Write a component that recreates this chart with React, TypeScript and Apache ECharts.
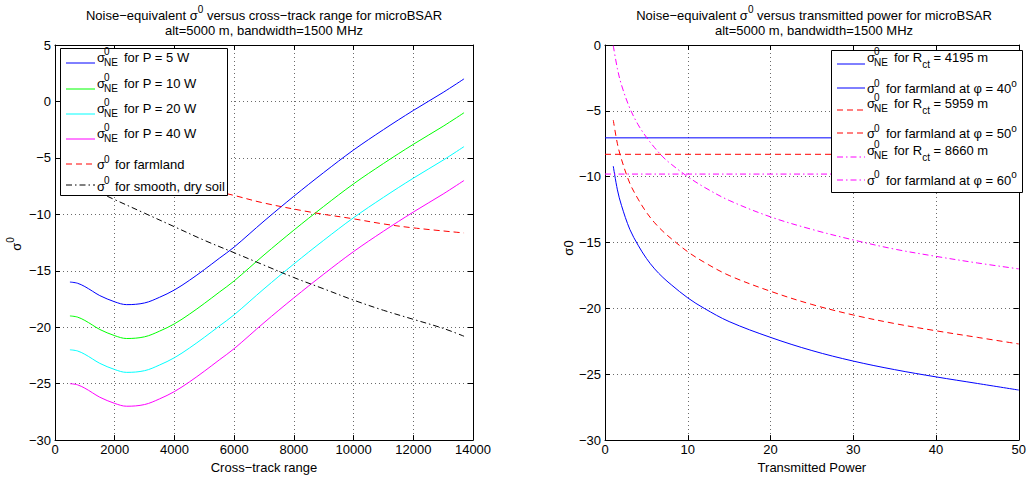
import React, { useEffect, useRef } from "react";
import * as echarts from "echarts";

// ---------- Left panel: sigma0 vs cross-track range ----------
const RANGE_X = [500, 750, 1000, 1250, 1500, 2000, 2400, 3000, 3500, 4000, 4500, 5000, 5500, 6000, 7000, 8000, 9000, 10000, 11000, 12000, 13000, 13700];
const NE_P5 = [-16.0, -16.1, -16.4, -16.8, -17.2, -17.75, -18.0, -17.85, -17.35, -16.7, -15.85, -14.9, -13.9, -12.9, -10.6, -8.4, -6.3, -4.3, -2.5, -0.8, 0.8, 2.0];
const NE_P10 = [-19.0, -19.1, -19.4, -19.8, -20.2, -20.75, -21.0, -20.85, -20.35, -19.7, -18.85, -17.9, -16.9, -15.9, -13.6, -11.4, -9.3, -7.3, -5.5, -3.8, -2.2, -1.0];
const NE_P20 = [-22.0, -22.1, -22.4, -22.8, -23.2, -23.75, -24.0, -23.85, -23.35, -22.7, -21.85, -20.9, -19.9, -18.9, -16.6, -14.4, -12.3, -10.3, -8.5, -6.8, -5.2, -4.0];
const NE_P40 = [-25.0, -25.1, -25.4, -25.8, -26.2, -26.75, -27.0, -26.85, -26.35, -25.7, -24.85, -23.9, -22.9, -21.9, -19.6, -17.4, -15.3, -13.3, -11.5, -9.8, -8.2, -7.0];
const FARM_X = [500, 1000, 2000, 3000, 4195, 5000, 5959, 7000, 8660, 10000, 11000, 12000, 13700];
const FARM_Y = [-3.0, -4.2, -5.6, -6.4, -7.1, -7.7, -8.3, -9.0, -9.85, -10.4, -10.85, -11.2, -11.65];
const SOIL_X = [500, 1000, 1500, 2000, 3000, 4000, 5000, 6000, 7000, 8000, 9000, 10000, 11000, 12000, 13000, 13700];
const SOIL_Y = [-7.0, -7.5, -8.1, -8.7, -9.9, -11.1, -12.3, -13.4, -14.5, -15.6, -16.6, -17.6, -18.5, -19.3, -20.1, -20.8];
const LEFT_X_TICKS = { min: 0, max: 14000, interval: 2000 };
const LEFT_Y_TICKS = { min: -30, max: 5, interval: 5 };

// ---------- Right panel: sigma0 vs transmitted power ----------
const POWER = [1, 1.5, 2, 3, 4, 5, 6, 7, 8, 10, 12, 15, 20, 25, 30, 35, 40, 45, 50];
const NE_R4195 = [-9.2, -11.0, -12.2, -14.0, -15.2, -16.2, -17.0, -17.65, -18.2, -19.2, -20.0, -21.0, -22.2, -23.2, -24.0, -24.65, -25.2, -25.7, -26.2];
const NE_R5959 = [-5.7, -7.5, -8.7, -10.5, -11.7, -12.7, -13.5, -14.15, -14.7, -15.7, -16.5, -17.5, -18.7, -19.7, -20.5, -21.15, -21.7, -22.2, -22.7];
const NE_R8660 = [-0.05, -1.8, -3.05, -4.8, -6.05, -7.0, -7.8, -8.5, -9.05, -10.0, -10.8, -11.8, -13.05, -14.0, -14.8, -15.5, -16.05, -16.55, -17.0];
const FLAT_P = [0, 50];
const FARM_40 = [-7.05, -7.05];
const FARM_50 = [-8.3, -8.3];
const FARM_60 = [-9.8, -9.8];
const RIGHT_X_TICKS = { min: 0, max: 50, interval: 10 };
const RIGHT_Y_TICKS = { min: -30, max: 0, interval: 5 };

const FONT = '"Liberation Sans", Arial, Helvetica, sans-serif';
const dash = () => [6, 4];
const dashdot = () => [6, 3, 1.5, 3];

const zip = (xs: number[], ys: number[]) => xs.map((x, i) => [x, ys[i]]);
const minus = (v: number) => String(v).replace("-", "\u2212");

const RICH = {
  n: { fontSize: 13, fontFamily: FONT, verticalAlign: "middle" },
  sup: { fontSize: 10, fontFamily: FONT, verticalAlign: "middle", padding: [0, 0, 11, 0] },
  sub: { fontSize: 10, fontFamily: FONT, verticalAlign: "middle", padding: [14, 0, 0, 0] },
};

function txt(x: number, y: number, text: string, size = 13, align = "left") {
  return {
    type: "text",
    x,
    y,
    z: 100,
    silent: true,
    style: {
      text,
      fontSize: size,
      fontFamily: FONT,
      fill: "#000",
      align,
      verticalAlign: "middle",
      textAlign: align,
      textVerticalAlign: "middle",
      rich: RICH,
    },
  };
}

function sample(x1: number, x2: number, y: number, color: string, d?: number[]) {
  const style: any = { stroke: color, lineWidth: 1 };
  if (d) style.lineDash = d;
  return {
    type: "line",
    z: 100,
    silent: true,
    shape: { x1, y1: y, x2, y2: y },
    style,
  };
}

function sigmaNE(x: number, cy: number) {
  return [txt(x, cy, "\u03c3"), txt(x + 7, cy - 5.5, "0", 10), txt(x + 7, cy + 5, "NE", 10)];
}
function sigma0(x: number, cy: number) {
  return [txt(x, cy, "\u03c3"), txt(x + 7, cy - 5.5, "0", 10)];
}

function buildGraphics() {
  const g: any[] = [];
  g.push(txt(264, 15, "{n|Noise\u2212equivalent \u03c3}{sup|0}{n| versus cross\u2212track range for microBSAR}", 13, "center"));
  g.push(txt(264, 30, "alt=5000 m, bandwidth=1500 MHz", 13, "center"));
  g.push(txt(814, 15, "{n|Noise\u2212equivalent \u03c3}{sup|0}{n| versus transmitted power for microBSAR}", 13, "center"));
  g.push(txt(814, 30, "alt=5000 m, bandwidth=1500 MHz", 13, "center"));
  const yl: any = txt(16, 244, "{n|\u03c3}{sup|0}", 13, "center");
  yl.rotation = Math.PI / 2;
  g.push(yl);
  const yr: any = txt(568, 248, "\u03c30", 13, "center");
  yr.rotation = Math.PI / 2;
  g.push(yr);

  // left legend
  g.push({ type: "rect", z: 99, silent: true, shape: { x: 60.5, y: 48.5, width: 167, height: 147 }, style: { fill: "#fff", stroke: "#000", lineWidth: 1 } });
  const L = [
    { c: "#0000ff", d: undefined, ly: 63, cy: 57, t: "for P = 5 W", ne: true },
    { c: "#00ff00", d: undefined, ly: 89, cy: 83, t: "for P = 10 W", ne: true },
    { c: "#00ffff", d: undefined, ly: 114, cy: 108, t: "for P = 20 W", ne: true },
    { c: "#ff00ff", d: undefined, ly: 139, cy: 133, t: "for P = 40 W", ne: true },
    { c: "#ff0000", d: dash(), ly: 164, cy: 164.5, t: "for farmland", ne: false },
    { c: "#000000", d: dashdot(), ly: 185, cy: 186, t: "for smooth, dry soil", ne: false },
  ];
  L.forEach((e) => {
    g.push(sample(66, 95, e.ly, e.c, e.d));
    if (e.ne) {
      g.push(...sigmaNE(97, e.cy));
      g.push(txt(124, e.cy, e.t));
    } else {
      g.push(...sigma0(97, e.cy));
      g.push(txt(115, e.cy, e.t));
    }
  });

  // right legend
  g.push({ type: "rect", z: 99, silent: true, shape: { x: 831.5, y: 50.5, width: 191, height: 142 }, style: { fill: "#fff", stroke: "#000", lineWidth: 1 } });
  const R = [
    { c: "#0000ff", d: undefined, ly: 64, cy: 57, ne: "4195" },
    { c: "#0000ff", d: undefined, ly: 88, cy: 88.5, ang: "40" },
    { c: "#ff0000", d: dash(), ly: 110, cy: 103.3, ne: "5959" },
    { c: "#ff0000", d: dash(), ly: 133, cy: 133.5, ang: "50" },
    { c: "#ff00ff", d: dashdot(), ly: 157, cy: 150, ne: "8660" },
    { c: "#ff00ff", d: dashdot(), ly: 180, cy: 180, ang: "60" },
  ];
  R.forEach((e: any) => {
    g.push(sample(837, 865, e.ly, e.c, e.d));
    if (e.ne) {
      g.push(...sigmaNE(867, e.cy));
      g.push(txt(894, e.cy, `{n|for R}{sub|ct}{n| = ${e.ne} m}`));
    } else {
      g.push(...sigma0(867, e.cy));
      g.push(txt(886, e.cy, `{n|for farmland at \u03c6 = ${e.ang}}{sup|o}`));
    }
  });
  return g;
}

function axisPair(gridIndex: number, ticks: any, isX: boolean, name?: string) {
  const main: any = {
    type: "value",
    gridIndex,
    min: ticks.min,
    max: ticks.max,
    interval: ticks.interval,
    position: isX ? "bottom" : "left",
    axisLine: { show: true, onZero: false, lineStyle: { color: "#000", width: 1 } },
    axisTick: { show: true, inside: true, length: 5, lineStyle: { color: "#000" } },
    axisLabel: { color: "#000", fontSize: 13, fontFamily: FONT, margin: isX ? 3 : 4, formatter: (v: number) => minus(v) },
    splitLine: { show: true, lineStyle: { color: "#6a6a6a", width: 1, type: [1, 3] } },
  };
  if (name) {
    main.name = name;
    main.nameLocation = "middle";
    main.nameGap = 17;
    main.nameTextStyle = { color: "#000", fontSize: 13, fontFamily: FONT };
  }
  const mirror: any = {
    type: "value",
    gridIndex,
    min: ticks.min,
    max: ticks.max,
    interval: ticks.interval,
    position: isX ? "top" : "right",
    axisLine: { show: true, onZero: false, lineStyle: { color: "#000", width: 1 } },
    axisTick: { show: true, inside: true, length: 5, lineStyle: { color: "#000" } },
    axisLabel: { show: false },
    splitLine: { show: false },
  };
  return [main, mirror];
}

function lineSeries(name: string, data: number[][], color: string, d: any, xi: number, yi: number, smooth = true) {
  return {
    type: "line",
    name,
    data,
    xAxisIndex: xi,
    yAxisIndex: yi,
    showSymbol: false,
    symbol: "none",
    smooth: smooth ? 0.35 : false,
    silent: true,
    clip: true,
    lineStyle: { color, width: 1, type: d || "solid" },
    itemStyle: { color },
    emphasis: { disabled: true },
  };
}

export default function App() {
  const ref = useRef<HTMLDivElement>(null);
  useEffect(() => {
    if (!ref.current) return;
    const chart = echarts.init(ref.current, undefined, { renderer: "svg" });
    const [lx, lxm] = axisPair(0, LEFT_X_TICKS, true, "Cross\u2212track range");
    const [ly, lym] = axisPair(0, LEFT_Y_TICKS, false);
    const [rx, rxm] = axisPair(1, RIGHT_X_TICKS, true, "Transmitted Power");
    const [ry, rym] = axisPair(1, RIGHT_Y_TICKS, false);
    chart.setOption({
      animation: false,
      backgroundColor: "#fff",
      textStyle: { fontFamily: FONT },
      grid: [
        { left: 55, right: 556, top: 45, bottom: 37, show: false },
        { left: 605, right: 6, top: 45, bottom: 37, show: false },
      ],
      xAxis: [lx, lxm, rx, rxm],
      yAxis: [ly, lym, ry, rym],
      series: [
        lineSeries("sigmaNE P=5 W", zip(RANGE_X, NE_P5), "#0000ff", null, 0, 0),
        lineSeries("sigmaNE P=10 W", zip(RANGE_X, NE_P10), "#00ff00", null, 0, 0),
        lineSeries("sigmaNE P=20 W", zip(RANGE_X, NE_P20), "#00ffff", null, 0, 0),
        lineSeries("sigmaNE P=40 W", zip(RANGE_X, NE_P40), "#ff00ff", null, 0, 0),
        lineSeries("sigma0 farmland", zip(FARM_X, FARM_Y), "#ff0000", dash(), 0, 0),
        lineSeries("sigma0 smooth dry soil", zip(SOIL_X, SOIL_Y), "#000000", dashdot(), 0, 0),
        lineSeries("sigmaNE Rct=4195 m", zip(POWER, NE_R4195), "#0000ff", null, 2, 2),
        lineSeries("sigma0 farmland 40", zip(FLAT_P, FARM_40), "#0000ff", null, 2, 2, false),
        lineSeries("sigmaNE Rct=5959 m", zip(POWER, NE_R5959), "#ff0000", dash(), 2, 2),
        lineSeries("sigma0 farmland 50", zip(FLAT_P, FARM_50), "#ff0000", dash(), 2, 2, false),
        lineSeries("sigmaNE Rct=8660 m", zip(POWER, NE_R8660), "#ff00ff", dashdot(), 2, 2),
        lineSeries("sigma0 farmland 60", zip(FLAT_P, FARM_60), "#ff00ff", dashdot(), 2, 2, false),
      ],
      graphic: buildGraphics(),
    });
    return () => chart.dispose();
  }, []);
  return <div ref={ref} style={{ position: "absolute", left: 0, top: 0, width: 1029, height: 479 }} />;
}
